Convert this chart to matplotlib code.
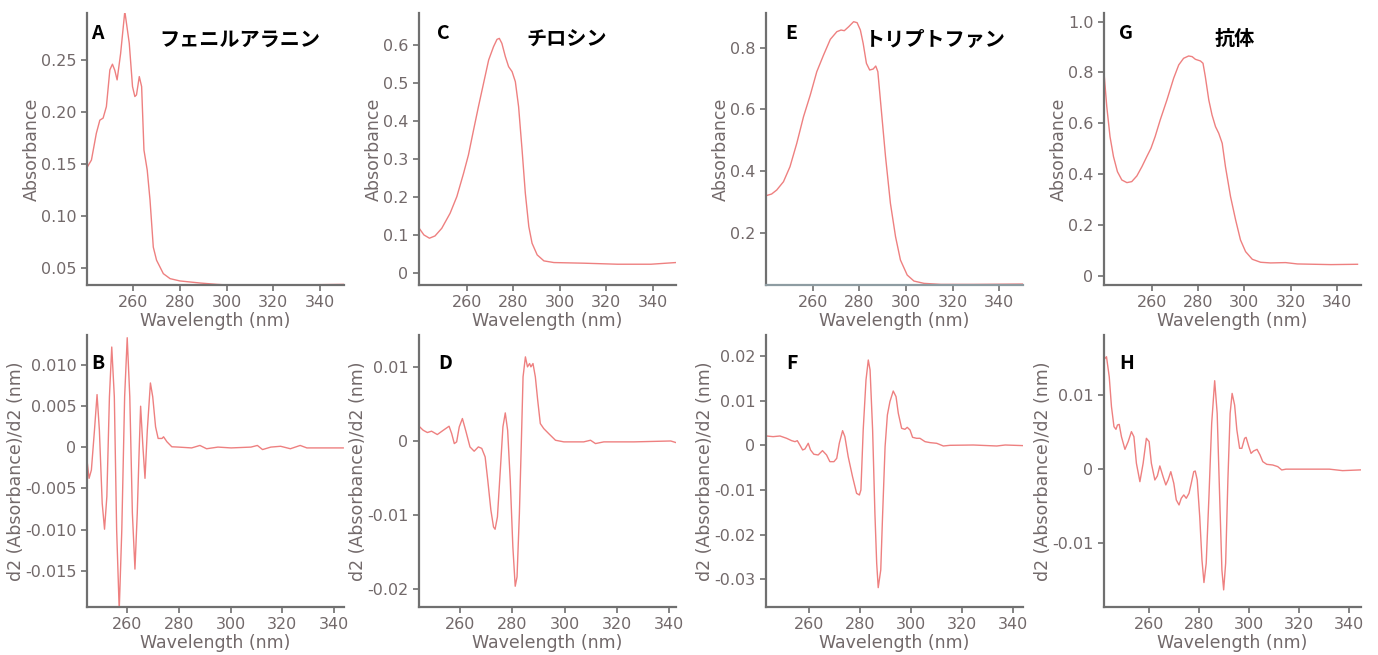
import matplotlib
matplotlib.use("Agg")
import matplotlib.pyplot as plt

# === データ: 吸光度スペクトル (上段) と二次微分 (下段) ===
wl_a = [240, 242.1, 244.2, 245.7, 247.1, 248.5, 250, 251.1, 252.1, 253.1, 254.6, 256.4, 258.3,
        259.7, 260.7, 261.4, 262.6, 263.6, 264.6, 266.0, 267.2, 268.6, 270, 272.9, 275.8, 280,
        288.7, 295.8, 303, 317.3, 350]
abs_a = [0.1457, 0.1537, 0.1794, 0.192, 0.194, 0.205, 0.2404, 0.2458, 0.240, 0.2307, 0.256, 0.2966,
         0.266, 0.2243, 0.2147, 0.2163, 0.2339, 0.2243, 0.1633, 0.144, 0.1152, 0.070, 0.0574, 0.0445,
         0.0397, 0.0375, 0.0355, 0.0342, 0.0333, 0.0333, 0.0342]

wl_b = [244.0, 245.1, 246.0, 247.2, 248.2, 249.1, 250.2, 251.1, 252.0, 253.0, 253.9, 254.9, 255.8,
        256.8, 257.8, 258.9, 259.9, 260.9, 261.9, 262.9, 263.8, 264.5, 265.1, 266.0, 266.8, 267.7,
        268.9, 269.8, 270.9, 271.9, 273.4, 274.0, 275.3, 277.2, 279.8, 284.9, 288.1, 290.7, 295.1,
        300.2, 307.9, 310.4, 312.4, 315.6, 319.4, 323.2, 327.0, 329.6, 343.7]
d2_b = [-0.00077, -0.00379, -0.00278, 0.00206, 0.00637, 0.00206, -0.00682, -0.00996, -0.006, 0.0061,
        0.01214, 0.0061, -0.01004, -0.0198, -0.01004, 0.0061, 0.01327, 0.0061, -0.008, -0.0148,
        -0.008, -0.00075, 0.00496, 0.0, -0.00379, 0.00206, 0.00778, 0.0061, 0.00246, 0.00105,
        0.00105, 0.00125, 0.00065, 0.00004, 0.0, -0.0001, 0.0002, -0.0002, 0.0, -0.0001, 0.0,
        0.0002, -0.0003, 0.0, 0.0001, -0.0002, 0.0002, -0.0001, -0.0001]

wl_c = [239.5, 241.5, 243.9, 246.3, 249.2, 252.8, 255.7, 258.6, 260.7, 262.9, 265.0, 267.2, 269.4,
        271.5, 273.0, 274.0, 275.1, 276.6, 278.0, 279.5, 280.9, 282.3, 283.8, 285.2, 286.7, 288.1,
        290.3, 293.2, 297.5, 310.5, 324.9, 339.3, 350]
abs_c = [0.118, 0.1007, 0.092, 0.098, 0.118, 0.1576, 0.2014, 0.2627, 0.311, 0.3765, 0.4378, 0.4991,
         0.5604, 0.5954, 0.6147, 0.6173, 0.6042, 0.5692, 0.5429, 0.5298, 0.5035, 0.4378, 0.324,
         0.2102, 0.1226, 0.0788, 0.0482, 0.0324, 0.028, 0.0263, 0.0236, 0.0236, 0.028]

wl_d = [244.3, 245.9, 247.5, 249.1, 251.3, 253.6, 255.8, 256.8, 257.8, 258.7, 259.7, 260.9, 262.3,
        263.8, 265.4, 267.0, 268.3, 269.6, 270.6, 271.8, 272.8, 273.4, 274.3, 275.4, 276.4, 277.3,
        278.2, 279.2, 280.2, 281.1, 281.8, 282.7, 283.4, 284.1, 285.0, 285.8, 286.6, 287.1, 287.9,
        288.8, 289.7, 290.7, 292.0, 293.9, 296.5, 299.7, 307.3, 309.9, 311.8, 315.0, 326.5, 340.6, 342.9]
d2_d = [0.00199, 0.00145, 0.00114, 0.00132, 0.00087, 0.00145, 0.00199, 0.001, -0.00035, -0.00012,
        0.0019, 0.00303, 0.00123, -0.0008, -0.00138, -0.0008, -0.001, -0.00215, -0.0053, -0.00934,
        -0.0116, -0.01191, -0.01024, -0.00395, 0.0019, 0.00379, 0.00145, -0.0053, -0.01429, -0.0196,
        -0.01834, -0.00979, -0.0008, 0.00865, 0.01135, 0.01, 0.01045, 0.01, 0.01045, 0.00865, 0.0055,
        0.00235, 0.00168, 0.001, 0.0001, -0.00012, -0.00012, 0.0001, -0.00035, -0.00012, -0.00012,
        0.0, -0.00025]

wl_e = [239.9, 242.3, 244.5, 247.4, 250.2, 253.1, 256.0, 258.9, 261.7, 264.6, 267.5, 270.3, 272.1,
        273.5, 275.4, 277.5, 279.0, 280.4, 281.6, 283.0, 284.4, 285.9, 287.0, 287.9, 289.0, 291.2,
        293.3, 295.5, 297.6, 300.5, 303.4, 307.7, 314.9, 329.3, 350.1]
abs_e = [0.32, 0.3254, 0.3384, 0.3654, 0.4141, 0.4897, 0.5762, 0.6465, 0.7222, 0.7762, 0.827, 0.8519,
         0.8573, 0.8551, 0.8681, 0.8843, 0.8811, 0.8573, 0.8141, 0.7492, 0.7276, 0.7308, 0.7405,
         0.7222, 0.6303, 0.4465, 0.2951, 0.187, 0.1114, 0.0627, 0.0432, 0.0357, 0.0324, 0.0324, 0.0335]

wl_f = [243.2, 245.8, 248.5, 251.1, 253.1, 254.4, 255.3, 256.3, 257.4, 258.3, 259.6, 260.5, 261.8,
        263.5, 265.2, 266.8, 268.1, 269.7, 270.8, 271.8, 273.1, 274.0, 275.3, 277.0, 278.6, 279.7,
        280.3, 281.2, 282.3, 283.2, 283.9, 284.9, 285.8, 286.5, 287.1, 288.1, 288.8, 289.8, 290.7,
        291.7, 293.0, 294.1, 295.0, 296.3, 297.6, 298.5, 299.6, 300.6, 302.2, 303.5, 305.5, 307.5,
        310.1, 312.7, 315.3, 324.5, 333.7, 337.0, 344.2]
d2_f = [0.00209, 0.00194, 0.00209, 0.00157, 0.00104, 0.00082, 0.00104, 0.00007, -0.00104, -0.00082,
        0.00045, -0.00104, -0.002, -0.00216, -0.00119, -0.00216, -0.00366, -0.00366, -0.00291,
        0.00045, 0.00328, 0.00194, -0.00254, -0.007, -0.01075, -0.01112, -0.01, 0.00343, 0.01463,
        0.0191, 0.01687, 0.00343, -0.01522, -0.02642, -0.03187, -0.02791, -0.01597, -0.0003, 0.00679,
        0.00978, 0.01216, 0.0109, 0.00716, 0.00381, 0.00358, 0.00403, 0.00343, 0.00179, 0.00157,
        0.00157, 0.00082, 0.0006, 0.00045, -0.00015, 0.0, 0.00007, -0.00015, 0.00007, -0.00007]

wl_g = [239.3, 240.5, 241.9, 243.4, 245.1, 247.0, 249.2, 251.3, 253.5, 255.7, 257.8, 259.6, 261.4,
        263.6, 266.5, 269.4, 271.6, 273.7, 275.9, 277.4, 278.8, 281.0, 282.1, 283.1, 284.6, 286.0,
        287.5, 288.9, 290.4, 291.8, 294.0, 296.2, 298.3, 300.5, 303.4, 307.0, 311.3, 317.8, 322.9,
        337.4, 348.9]
abs_g = [0.7992, 0.6654, 0.5472, 0.4685, 0.4094, 0.3766, 0.3661, 0.3701, 0.3924, 0.4291, 0.4685,
         0.5013, 0.5472, 0.6129, 0.6916, 0.7769, 0.8294, 0.8556, 0.8648, 0.8622, 0.8517, 0.8451,
         0.836, 0.7835, 0.6916, 0.6325, 0.5866, 0.5604, 0.521, 0.4291, 0.311, 0.2192, 0.1404, 0.0945,
         0.0643, 0.0525, 0.0499, 0.0512, 0.0459, 0.0433, 0.0446]

wl_h = [242.3, 242.9, 244.0, 244.9, 245.9, 246.7, 247.3, 248.0, 248.9, 250.3, 251.6, 252.9, 253.9,
        254.9, 256.3, 257.6, 258.9, 260.0, 260.9, 262.3, 263.3, 264.3, 265.6, 266.7, 267.6, 268.7,
        269.9, 270.9, 272.0, 272.9, 273.9, 274.9, 276.0, 276.9, 277.9, 278.5, 279.3, 280.3, 281.2,
        282.0, 282.9, 284.0, 285.1, 286.3, 287.3, 288.3, 289.2, 289.9, 290.7, 291.6, 292.5, 293.3,
        294.3, 295.2, 296.3, 297.2, 298.3, 298.9, 300.0, 300.9, 301.9, 303.3, 304.5, 305.6, 307.2,
        309.6, 311.6, 313.2, 314.9, 318.9, 332.3, 337.6, 344.9]
d2_h = [0.01494, 0.01517, 0.01247, 0.00843, 0.00573, 0.00537, 0.00596, 0.00604, 0.00438, 0.00267,
        0.00371, 0.00506, 0.00438, 0.00079, -0.00169, 0.00079, 0.00416, 0.00371, 0.00079, -0.00146,
        -0.00092, 0.00043, -0.00101, -0.00213, -0.00146, -0.00034, -0.00191, -0.00416, -0.00483,
        -0.00393, -0.00348, -0.00393, -0.00326, -0.00191, -0.00034, -0.00025, -0.00146, -0.0064,
        -0.01225, -0.0153, -0.0127, -0.00371, 0.00618, 0.01193, 0.00753, -0.00371, -0.0136, -0.01629,
        -0.0127, -0.00146, 0.00753, 0.01022, 0.00865, 0.00528, 0.00281, 0.00281, 0.00416, 0.00429,
        0.00303, 0.00213, 0.00245, 0.00267, 0.00191, 0.00101, 0.00065, 0.00056, 0.00034, -0.00011,
        0.0, 0.0, 0.0, -0.0002, -0.0001]

titles = ["フェニルアラニン", "チロシン", "トリプトファン", "抗体"]
letters_top = ["A", "C", "E", "G"]
letters_bottom = ["B", "D", "F", "H"]
x_ticks = [260, 280, 300, 320, 340]

yticks_top = [[0.05, 0.10, 0.15, 0.20, 0.25],
              [0, 0.1, 0.2, 0.3, 0.4, 0.5, 0.6],
              [0.2, 0.4, 0.6, 0.8],
              [0, 0.2, 0.4, 0.6, 0.8, 1.0]]
ydec_top = [2, 1, 1, 1]
yticks_bottom = [[-0.015, -0.010, -0.005, 0, 0.005, 0.010],
                 [-0.02, -0.01, 0, 0.01],
                 [-0.03, -0.02, -0.01, 0, 0.01, 0.02],
                 [-0.01, 0, 0.01]]
ydec_bottom = [3, 2, 2, 2]

top_data = [(wl_a, abs_a), (wl_c, abs_c), (wl_e, abs_e), (wl_g, abs_g)]
bottom_data = [(wl_b, d2_b), (wl_d, d2_d), (wl_f, d2_f), (wl_h, d2_h)]

# === レイアウト (ピクセル基準) ===
W, H = 1378, 655
col_left = [87, 419, 766, 1104]
ax_w = 257
top_lims_x = [(240.2, 350.3), (239.4, 350.1), (239.9, 350.2), (239.3, 350.4)]
top_lims_y = [(0.0336, 0.295), (-0.031, 0.684), (0.0304, 0.9125), (-0.037, 1.034)]
bot_lims_x = [(244.3, 344.0), (244.3, 342.6), (243.0, 344.0), (241.9, 345.0)]
bot_lims_y = [(-0.0194, 0.0136), (-0.0224, 0.0143), (-0.0362, 0.0247), (-0.0186, 0.0181)]
title_x = [0.596, 0.574, 0.66, 0.51]
letter_x_top = [0.015, 0.07, 0.075, 0.06]
letter_x_bot = [0.015, 0.074, 0.078, 0.058]

line_col = "#ee8080"
spine_col = "#707070"
text_col = "#72696a"
cjk = ["Noto Sans CJK JP", "DejaVu Sans"]


def fmt(v, d):
    if v == 0:
        return "0"
    return f"{v:.{d}f}"


def style(ax, xl, yl, yt, dec, ylabel):
    for s in ["top", "right"]:
        ax.spines[s].set_visible(False)
    for s in ["left", "bottom"]:
        ax.spines[s].set_color(spine_col)
        ax.spines[s].set_linewidth(1.6)
    ax.set_xlim(xl)
    ax.set_ylim(yl)
    ax.set_xticks(x_ticks)
    ax.set_yticks(yt)
    ax.set_yticklabels([fmt(v, dec) for v in yt])
    ax.tick_params(colors=spine_col, labelcolor=text_col, labelsize=11.5, length=4, width=1.2)
    ax.set_xlabel("Wavelength (nm)", color=text_col, fontsize=12.5, labelpad=1)
    ax.set_ylabel(ylabel, color=text_col, fontsize=12.5, labelpad=0)


fig = plt.figure(figsize=(W / 100, H / 100), dpi=100)

for i in range(4):
    # 上段: 吸光度
    ax = fig.add_axes([col_left[i] / W, 1 - 285 / H, ax_w / W, 272 / H])
    x, y = top_data[i]
    ax.plot(x, y, color=line_col, lw=1.0)
    style(ax, top_lims_x[i], top_lims_y[i], yticks_top[i], ydec_top[i], "Absorbance")
    if i == 2:
        ax.spines["bottom"].set_color("#8e9ca2")
    ax.text(letter_x_top[i], 0.925, letters_top[i], transform=ax.transAxes, fontsize=14,
            fontweight="bold", va="center", ha="left", family=cjk)
    ax.text(title_x[i], 0.905, titles[i], transform=ax.transAxes, fontsize=14.5,
            fontweight="bold", va="center", ha="center", family=cjk)

    # 下段: 二次微分
    ax2 = fig.add_axes([col_left[i] / W, 1 - 607 / H, ax_w / W, 272 / H])
    x, y = bottom_data[i]
    ax2.plot(x, y, color=line_col, lw=1.0)
    style(ax2, bot_lims_x[i], bot_lims_y[i], yticks_bottom[i], ydec_bottom[i],
          "d2 (Absorbance)/d2 (nm)")
    ax2.text(letter_x_bot[i], 0.897, letters_bottom[i], transform=ax2.transAxes, fontsize=14,
             fontweight="bold", va="center", ha="left", family=cjk)

fig.savefig("out.png", dpi=100)
